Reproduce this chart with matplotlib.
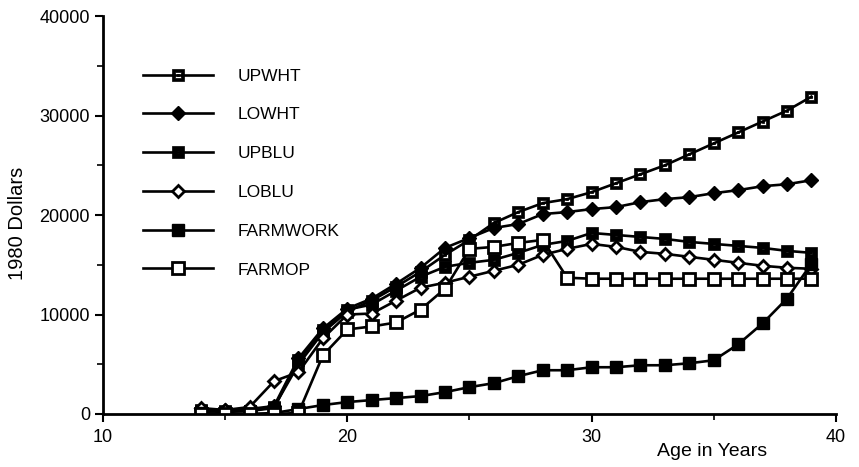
import numpy as np
import matplotlib
matplotlib.use("Agg")
import matplotlib.pyplot as plt
from matplotlib.path import Path

plt.rcParams['font.family'] = ['Liberation Sans', 'DejaVu Sans']

# ages 14..39
ages = list(range(14, 40))

upwht = [400, 300, 300, 700, 5000, 8200, 10300, 11400, 12800, 14300, 16000, 17500, 19200,
         20300, 21200, 21600, 22300, 23200, 24100, 25000, 26100, 27200, 28300, 29400, 30500, 31900]
lowht = [500, 400, 500, 800, 5600, 8600, 10600, 11600, 13100, 14700, 16700, 17700, 18700,
         19100, 20100, 20300, 20600, 20800, 21300, 21600, 21800, 22200, 22500, 22900, 23100, 23500]
upblu = [300, 200, 300, 600, 5400, 8400, 10500, 11000, 12400, 13800, 14800, 15200, 15500,
         16200, 17000, 17400, 18200, 18000, 17800, 17600, 17300, 17100, 16900, 16700, 16400, 16200]
loblu = [600, 400, 700, 3300, 4200, 7600, 10000, 10100, 11400, 12700, 13200, 13800, 14400,
         15000, 16000, 16600, 17100, 16800, 16300, 16100, 15800, 15500, 15200, 14900, 14700, 14600]
farmwork = [100, 0, 0, 100, 500, 900, 1200, 1400, 1600, 1800, 2200, 2700, 3100,
            3800, 4400, 4400, 4700, 4700, 4900, 4900, 5100, 5400, 7000, 9100, 11600, 15100]
farmop = [0, 0, 0, 0, 100, 5900, 8500, 8800, 9200, 10500, 12600, 16600, 16800,
          17200, 17500, 13700, 13600, 13600, 13600, 13600, 13600, 13600, 13600, 13600, 13600, 13600]

noms = ['UPWHT', 'LOWHT', 'UPBLU', 'LOBLU', 'FARMWORK', 'FARMOP']
series = [upwht, lowht, upblu, loblu, farmwork, farmop]


def carre(c, sens):
    # petit carre centre, sens = 1 (anti-horaire) ou -1 (horaire)
    pts = [(-c, -c), (c, -c), (c, c), (-c, c)]
    if sens < 0:
        pts = pts[::-1]
    return pts + [pts[0]]


def marqueur_troue(interne, point):
    # carre plein avec un trou et eventuellement un point au centre
    verts = carre(1.0, 1) + carre(interne, -1)
    codes = [Path.MOVETO, Path.LINETO, Path.LINETO, Path.LINETO, Path.CLOSEPOLY] * 2
    if point:
        verts += carre(point, 1)
        codes += [Path.MOVETO, Path.LINETO, Path.LINETO, Path.LINETO, Path.CLOSEPOLY]
    return Path(verts, codes)


m_upwht = marqueur_troue(0.58, 0.18)
m_upblu = marqueur_troue(0.15, None)

styles = [
    dict(marker=m_upwht, markersize=8.5, mfc='black', mec='black', mew=0.5),
    dict(marker='D', markersize=7.5, mfc='black', mec='black', mew=1),
    dict(marker=m_upblu, markersize=8.5, mfc='black', mec='black', mew=0.5),
    dict(marker='D', markersize=6.5, mfc='white', mec='black', mew=2),
    dict(marker='s', markersize=8.5, mfc='black', mec='black', mew=1),
    dict(marker='s', markersize=8, mfc='white', mec='black', mew=2),
]

fig = plt.figure(figsize=(8.59, 4.67), dpi=100)
ax = fig.add_axes([0.12, 0.1135, 0.853, 0.852])

for nom, y, st in zip(noms, series, styles):
    ax.plot(ages, y, color='black', lw=1.9, label=nom, **st)

ax.set_xlim(10, 40)
ax.set_ylim(0, 40000)
ax.set_xticks([10, 20, 30, 40])
ax.set_xticks([15, 25, 35], minor=True)
ax.set_yticks([0, 10000, 20000, 30000, 40000])
ax.set_yticks([5000, 15000, 25000, 35000], minor=True)
ax.tick_params(axis='both', which='major', length=6, width=1.5, labelsize=13, direction='out')
ax.tick_params(axis='both', which='minor', length=4, width=1.2, direction='out')
ax.tick_params(axis='x', pad=5)

for s in ['top', 'right']:
    ax.spines[s].set_visible(False)
for s in ['left', 'bottom']:
    ax.spines[s].set_linewidth(2)

ax.set_ylabel("1980 Dollars", fontsize=14.5)
ax.yaxis.set_label_coords(-0.104, 0.48)
ax.set_xlabel("Age in Years", fontsize=14)
ax.xaxis.set_label_coords(0.831, -0.072)

ax.legend(loc='upper left', bbox_to_anchor=(0.043, 0.89), frameon=False, fontsize=12.5,
          handlelength=4.0, handletextpad=1.45, labelspacing=1.36, borderpad=0)

fig.savefig('out.png', dpi=100)
